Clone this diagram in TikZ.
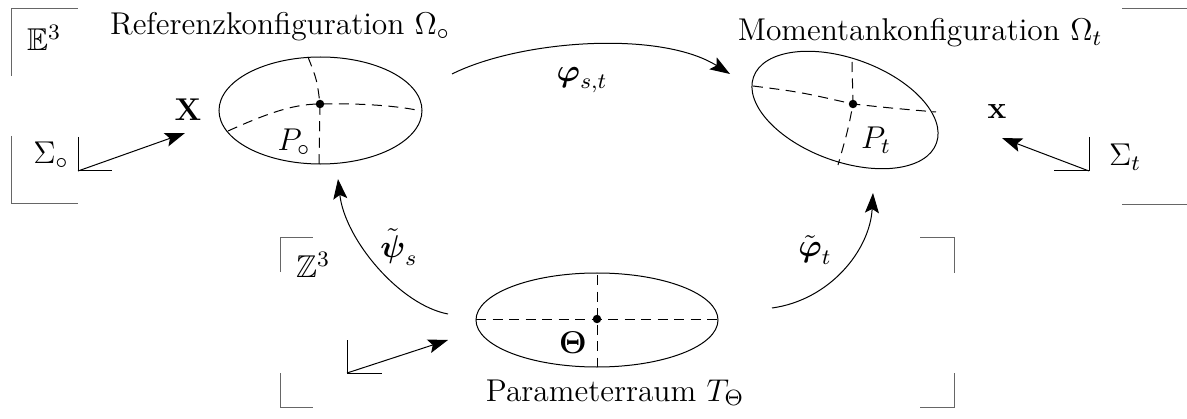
\documentclass[tikz,border=0pt,12pt]{standalone}
\usepackage{fix-cm}
\usepackage{amsmath}
\usepackage{amssymb}
\usetikzlibrary{arrows.meta, shapes.geometric}

\begin{document}
\begin{tikzpicture}[
    x=0.4pt, y=-0.4pt,
    every node/.style={font=\fontsize{12.6}{15}\selectfont},
    body/.style={draw, ellipse, inner sep=0pt},
    frame/.style={draw=black!60},
    cut/.style={dash pattern=on 4pt off 2.6pt},
    dot/.style={circle, fill, inner sep=0pt, minimum size=3.4pt},
    arrow/.style={-{Stealth[length=8pt, width=5.6pt, inset=1.6pt]}}
]
\useasboundingbox (0,0) rectangle (1187,419);

% the three bodies
\node[body, minimum width=81.2pt, minimum height=42.8pt] (ref) at (320.5,110.5) {};
\node[body, minimum width=77.8pt, minimum height=41.2pt, rotate=-20] (cur) at (845,110) {};
\node[body, minimum width=96.8pt, minimum height=37.6pt] (param) at (597,320) {};

\node[dot] (P0) at (320,104) {};
\node[dot] (Pt) at (853,104) {};
\node[dot] (Th) at (597,319) {};

\draw[cut] (308,57) .. controls (317,80) .. (P0.center) -- (319,164);
\draw[cut] (228,131) .. controls (270,112) and (295,104) .. (P0.center) .. controls (360,103) and (400,106) .. (421,111);
\draw[cut] (753,86) .. controls (800,92) .. (Pt.center) .. controls (890,108) .. (936,112);
\draw[cut] (852,62) -- (Pt.center) .. controls (848,130) .. (838,165);
\draw[cut] (476,319) -- (718,319);
\draw[cut] (597,275) -- (597,367);

% labels
\node[anchor=base] (reftitle) at (280,35) {Referenzkonfiguration $\Omega_\circ$};
\node[anchor=base] (curtitle) at (920,41) {Momentankonfiguration $\Omega_t$};
\node[anchor=base] (paramtitle) at (615,401) {Parameterraum $T_\Theta$};
\node (P0lab) at (294,142) {$P_\circ$};
\node (Ptlab) at (876,140) {$P_t$};
\node (Thlab) at (573,343) {$\boldsymbol{\Theta}$};
\node (E3) at (44,38) {$\mathbb{E}^3$};
\node (Z3) at (313,265) {$\mathbb{Z}^3$};
\node (S0) at (51,155) {$\Sigma_\circ$};
\node (St) at (1125,157) {$\Sigma_t$};
\node (X) at (188,110) {$\mathbf{X}$};
\node (x) at (997,112) {$\mathbf{x}$};
\node (philab) at (582,80) {$\boldsymbol{\varphi}_{s,t}$};
\node (psilab) at (399,247) {$\tilde{\boldsymbol{\psi}}_s$};
\node (phtlab) at (815,250) {$\tilde{\boldsymbol{\varphi}}_t$};

% space frames
\draw[frame] (11,76) -- (11,9) -- (78,9);
\draw[frame] (11,136) -- (11,204) -- (78,204);
\draw[frame] (1122,9) -- (1187,9);
\draw[frame] (1122,205) -- (1187,205);
\draw[frame] (280,272) -- (280,238) -- (313,238);
\draw[frame] (280,373) -- (280,407) -- (313,407);
\draw[frame] (920,238) -- (954,238) -- (954,273);
\draw[frame] (954,373) -- (954,407) -- (920,407);

% bases and position vectors
\coordinate (o0) at (78,171);
\coordinate (ot) at (1089,171);
\coordinate (oz) at (347,373);
\coordinate (Xtip) at (185,133);
\coordinate (xtip) at (1002,138);
\coordinate (Thtip) at (448,340);
\draw (78,137) -- (o0) -- (112,171);
\draw (1089,137) -- (ot) -- (1054,171);
\draw (347,340) -- (oz) -- (382,373);
\draw[arrow] (o0) -- (Xtip);
\draw[arrow] (ot) -- (xtip);
\draw[arrow] (oz) -- (Thtip);

% mappings
\coordinate (phiS) at (452,74);
\coordinate (phiE) at (730,74);
\coordinate (psiS) at (448,314);
\coordinate (psiE) at (338,179);
\coordinate (phtS) at (772,308);
\coordinate (phtE) at (873,193);
\draw[arrow] (phiS) .. controls (520,40) and (660,30) .. (phiE);
\draw[arrow] (psiS) .. controls (400,305) and (345,240) .. (psiE);
\draw[arrow] (phtS) .. controls (830,300) and (870,250) .. (phtE);
\end{tikzpicture}
\end{document}
